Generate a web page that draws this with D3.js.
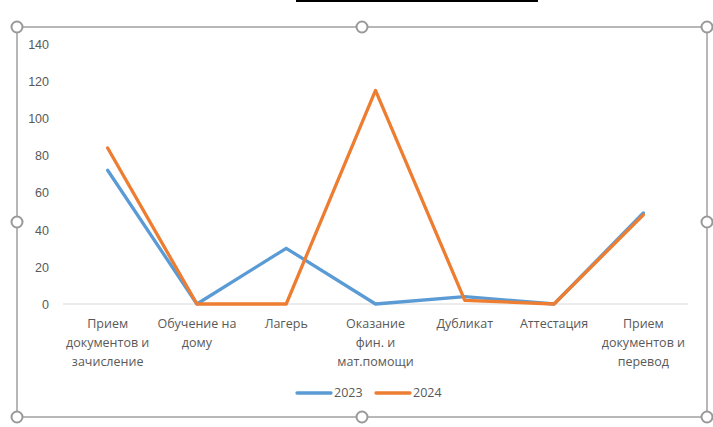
<!DOCTYPE html>
<html><head><meta charset="utf-8">
<script src="https://cdn.jsdelivr.net/npm/d3@7"></script>
<style>
html,body{margin:0;padding:0;background:#fff;}
svg{display:block;font-family:"Open Sans","Noto Sans",sans-serif;}
</style></head>
<body><svg id="c" width="713" height="427"></svg>
<script>
const categories = ["Прием документов и зачисление","Обучение на дому","Лагерь","Оказание фин. и мат.помощи","Дубликат","Аттестация","Прием документов и перевод"];
const series2023 = [72, 0, 30, 0, 4, 0, 49];
const series2024 = [84, 0, 0, 115, 2, 0, 48];
const seriesNames = ["2023","2024"];
const yTicks = [0,20,40,60,80,100,120,140];

const colors = ["#5B9BD5","#ED7D31"];
const svg = d3.select("#c");
const W = 713, H = 427;
const plot = {left:63, right:688, top:44, bottom:304};

// clipped title underline above the window
svg.append("rect").attr("x",296).attr("y",0).attr("width",242).attr("height",2).attr("fill","#000");

const x = d3.scaleBand().domain(categories).range([plot.left, plot.right]);
const y = d3.scaleLinear().domain([0,140]).range([plot.bottom, plot.top]);

// baseline
svg.append("line").attr("x1",plot.left).attr("x2",plot.right)
  .attr("y1",y(0)).attr("y2",y(0)).attr("stroke","#d9d9d9").attr("stroke-width",1);

// y axis labels
const yAxis = d3.axisLeft(y).tickValues(yTicks).tickSize(0).tickPadding(0);
const ya = svg.append("g").attr("transform","translate(49,0)").call(yAxis);
ya.select(".domain").remove();
ya.selectAll("text").attr("fill","#595959").style("font-size","12.5px").attr("dy","0.35em");

// x axis labels (wrapped)
const xa = svg.append("g");
function wrap(str, maxW, sizePx){
  const words = str.split(" ");
  const lines = []; let cur = "";
  const meas = svg.append("text").style("font-size",sizePx+"px").attr("visibility","hidden");
  words.forEach(w=>{
    const t = cur ? cur+" "+w : w;
    meas.text(t);
    if (meas.node().getComputedTextLength() > maxW && cur){ lines.push(cur); cur = w; }
    else cur = t;
  });
  if(cur) lines.push(cur);
  meas.remove();
  return lines;
}
categories.forEach(c=>{
  const lines = wrap(c, 88, 12.5);
  const t = xa.append("text").attr("x", x(c)+x.bandwidth()/2).attr("y",328)
    .attr("text-anchor","middle").attr("fill","#595959").style("font-size","12.5px");
  lines.forEach((l,i)=>t.append("tspan").attr("x", x(c)+x.bandwidth()/2).attr("y",328+i*19).text(l));
});

// lines
const line = d3.line().x((d,i)=>x(categories[i])+x.bandwidth()/2).y(d=>y(d));
[series2023, series2024].forEach((s,k)=>{
  svg.append("path").datum(s).attr("d",line).attr("fill","none")
    .attr("stroke",colors[k]).attr("stroke-width",3.3)
    .attr("stroke-linejoin","round").attr("stroke-linecap","round");
});

// legend
const legX = [297, 376];
seriesNames.forEach((n,k)=>{
  svg.append("line").attr("x1",legX[k]).attr("x2",legX[k]+34).attr("y1",393).attr("y2",393)
    .attr("stroke",colors[k]).attr("stroke-width",3.3).attr("stroke-linecap","round");
  svg.append("text").attr("x",legX[k]+37).attr("y",393).attr("dy","0.35em")
    .attr("fill","#595959").style("font-size","12.5px").text(n);
});

// selection frame
const fx0=17, fx1=707, fy0=27, fy1=417;
svg.append("rect").attr("x",fx0).attr("y",fy0).attr("width",fx1-fx0).attr("height",fy1-fy0)
  .attr("fill","none").attr("stroke","#a0a0a0").attr("stroke-width",1.5);
const mx=(fx0+fx1)/2, my=(fy0+fy1)/2;
const handles=[[fx0,fy0],[mx,fy0],[fx1,fy0],[fx0,my],[fx1,my],[fx0,fy1],[mx,fy1],[fx1,fy1]];
svg.selectAll("circle.h").data(handles).enter().append("circle").attr("class","h")
  .attr("cx",d=>d[0]).attr("cy",d=>d[1]).attr("r",5.5)
  .attr("fill","#fff").attr("stroke","#999").attr("stroke-width",2);
</script></body></html>
